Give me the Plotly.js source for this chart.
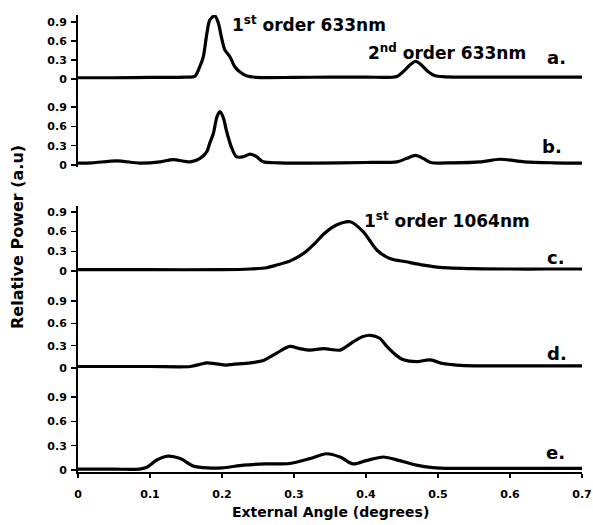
<!DOCTYPE html>
<html>
<head>
<meta charset="utf-8">
<script src="https://cdn.plot.ly/plotly-3.0.1.min.js"></script>
<style>html,body{margin:0;padding:0;background:#fff;}#chart{width:593px;height:525px;}</style>
</head>
<body>
<div id="chart"></div>
<script>
// External angle (degrees) and relative power for each trace
const xA = [0, 0.05, 0.1, 0.15, 0.162, 0.169, 0.174, 0.179, 0.183, 0.19, 0.195, 0.2, 0.204, 0.211, 0.218, 0.225, 0.234, 0.248, 0.3, 0.35, 0.4, 0.443, 0.452, 0.461, 0.469, 0.477, 0.486, 0.496, 0.51, 0.55, 0.6, 0.65, 0.7];
const yA = [0.02, 0.02, 0.025, 0.03, 0.04, 0.19, 0.35, 0.72, 0.93, 1.0, 0.88, 0.62, 0.46, 0.35, 0.19, 0.11, 0.05, 0.025, 0.025, 0.03, 0.03, 0.04, 0.12, 0.22, 0.28, 0.22, 0.12, 0.05, 0.035, 0.03, 0.03, 0.03, 0.03];

const xB = [0, 0.02, 0.054, 0.086, 0.114, 0.132, 0.156, 0.169, 0.179, 0.183, 0.188, 0.193, 0.197, 0.202, 0.206, 0.213, 0.22, 0.23, 0.239, 0.248, 0.257, 0.28, 0.33, 0.4, 0.443, 0.456, 0.469, 0.48, 0.49, 0.52, 0.56, 0.586, 0.62, 0.66, 0.7];
const yB = [0.03, 0.035, 0.065, 0.03, 0.05, 0.085, 0.05, 0.1, 0.21, 0.34, 0.49, 0.75, 0.83, 0.73, 0.54, 0.28, 0.13, 0.13, 0.17, 0.13, 0.05, 0.035, 0.03, 0.04, 0.05, 0.1, 0.15, 0.1, 0.04, 0.035, 0.05, 0.09, 0.05, 0.035, 0.03];

const xC = [0, 0.1, 0.2, 0.239, 0.262, 0.276, 0.294, 0.308, 0.318, 0.329, 0.341, 0.359, 0.378, 0.396, 0.415, 0.433, 0.456, 0.48, 0.503, 0.549, 0.6, 0.65, 0.7];
const yC = [0.02, 0.02, 0.02, 0.03, 0.05, 0.09, 0.15, 0.23, 0.31, 0.42, 0.56, 0.7, 0.75, 0.6, 0.32, 0.19, 0.14, 0.09, 0.055, 0.035, 0.03, 0.03, 0.03];

const xD = [0, 0.1, 0.156, 0.17, 0.179, 0.19, 0.206, 0.215, 0.239, 0.257, 0.276, 0.294, 0.308, 0.322, 0.341, 0.364, 0.373, 0.382, 0.395, 0.406, 0.419, 0.429, 0.442, 0.452, 0.47, 0.489, 0.507, 0.526, 0.55, 0.6, 0.65, 0.7];
const yD = [0.02, 0.02, 0.02, 0.05, 0.07, 0.06, 0.04, 0.05, 0.07, 0.1, 0.2, 0.29, 0.26, 0.24, 0.26, 0.24, 0.29, 0.35, 0.42, 0.44, 0.4, 0.29, 0.17, 0.11, 0.085, 0.11, 0.06, 0.04, 0.03, 0.03, 0.03, 0.03];

const xE = [0, 0.05, 0.085, 0.095, 0.109, 0.125, 0.142, 0.16, 0.18, 0.2, 0.23, 0.26, 0.294, 0.322, 0.345, 0.364, 0.382, 0.4, 0.424, 0.447, 0.47, 0.493, 0.52, 0.6, 0.7];
const yE = [0.01, 0.01, 0.01, 0.03, 0.12, 0.17, 0.14, 0.05, 0.025, 0.025, 0.06, 0.075, 0.08, 0.14, 0.2, 0.16, 0.075, 0.115, 0.16, 0.115, 0.06, 0.03, 0.02, 0.02, 0.02];

const panelLabels = ['a.', 'b.', 'c.', 'd.', 'e.'];
const yTickVals = [0, 0.3, 0.6, 0.9];
const yTickText = ['0', '0.3', '0.6', '0.9'];
const xTickVals = [0, 0.1, 0.2, 0.3, 0.4, 0.5, 0.6, 0.7];
const xTickText = ['0', '0.1', '0.2', '0.3', '0.4', '0.5', '0.6', '0.7'];

const FONT = 'DejaVu Sans, Liberation Sans, Arial, sans-serif';
const series = [[xA, yA], [xB, yB], [xC, yC], [xD, yD], [xE, yE]];
const traces = series.map((s, i) => ({
  x: s[0], y: s[1], type: 'scatter', mode: 'lines',
  line: {color: '#000', width: 3.2, shape: 'spline', smoothing: 0.8},
  xaxis: 'x', yaxis: i === 0 ? 'y' : 'y' + (i + 1), hoverinfo: 'skip', cliponaxis: false
}));

const domains = [[0.8312, 0.9892], [0.6602, 0.8312], [0.4048, 0.5758], [0.1948, 0.4048], [0, 0.1948]];
const ranges = [[-0.142, 1.011], [-0.03, 1.196], [-0.213, 0.99], [-0.188, 1.116], [-0.025, 1.085]];
const labelPos = [[0.665, 0.34], [0.659, 0.295], [0.664, 0.2], [0.665, 0.2], [0.6625, 0.21]];

const layout = {
  width: 593, height: 525,
  margin: {l: 78, r: 11, t: 10, b: 53},
  paper_bgcolor: '#fff', plot_bgcolor: '#fff',
  showlegend: false,
  font: {family: FONT, color: '#000', size: 11, weight: 'bold'},
  xaxis: {
    range: [0, 0.7], anchor: 'y5', showgrid: false, zeroline: false,
    showline: true, linecolor: '#000', linewidth: 2,
    ticks: 'outside', ticklen: 4, tickwidth: 1.5, tickcolor: '#000',
    tickvals: xTickVals, ticktext: xTickText, ticklabelstandoff: 7,
    tickfont: {family: FONT, size: 11, weight: 'bold'}
  },
  annotations: [],
  shapes: []
};

for (let i = 0; i < 5; i++) {
  const key = i === 0 ? 'yaxis' : 'yaxis' + (i + 1);
  layout[key] = {
    domain: domains[i], range: ranges[i], anchor: 'x',
    showgrid: false, zeroline: false,
    showline: true, linecolor: '#000', linewidth: 2,
    ticks: 'outside', ticklen: 5, tickwidth: 1.5, tickcolor: '#000',
    tickvals: yTickVals, ticktext: yTickText, ticklabelstandoff: 2,
    tickfont: {family: FONT, size: 11, weight: 'bold'}
  };
  layout.annotations.push({
    text: panelLabels[i], xref: 'x', yref: i === 0 ? 'y' : 'y' + (i + 1),
    x: labelPos[i][0], y: labelPos[i][1], showarrow: false,
    xanchor: 'center', yanchor: 'middle',
    font: {family: FONT, size: 18, weight: 'bold'}
  });
}

layout.annotations.push(
  {text: '1<sup>st</sup> order 633nm', xref: 'x', yref: 'y', x: 0.3215, y: 0.87, showarrow: false,
   xanchor: 'center', yanchor: 'middle', font: {family: FONT, size: 17, weight: 'bold'}},
  {text: '2<sup>nd</sup> order 633nm', xref: 'x', yref: 'y', x: 0.512, y: 0.43, showarrow: false,
   xanchor: 'center', yanchor: 'middle', font: {family: FONT, size: 17, weight: 'bold'}},
  {text: '1<sup>st</sup> order 1064nm', xref: 'x', yref: 'y3', x: 0.512, y: 0.78, showarrow: false,
   xanchor: 'center', yanchor: 'middle', font: {family: FONT, size: 17, weight: 'bold'}},
  {text: 'Relative Power (a.u)', xref: 'paper', yref: 'paper', x: -0.119, y: 0.5087, textangle: -90,
   showarrow: false, xanchor: 'center', yanchor: 'middle', font: {family: FONT, size: 16, weight: 'bold'}},
  {text: 'External Angle (degrees)', xref: 'paper', yref: 'paper', x: 0.5, y: -0.0866,
   showarrow: false, xanchor: 'center', yanchor: 'middle', font: {family: FONT, size: 14, weight: 'bold'}}
);

Plotly.newPlot('chart', traces, layout, {staticPlot: true, displayModeBar: false});
</script>
</body>
</html>
